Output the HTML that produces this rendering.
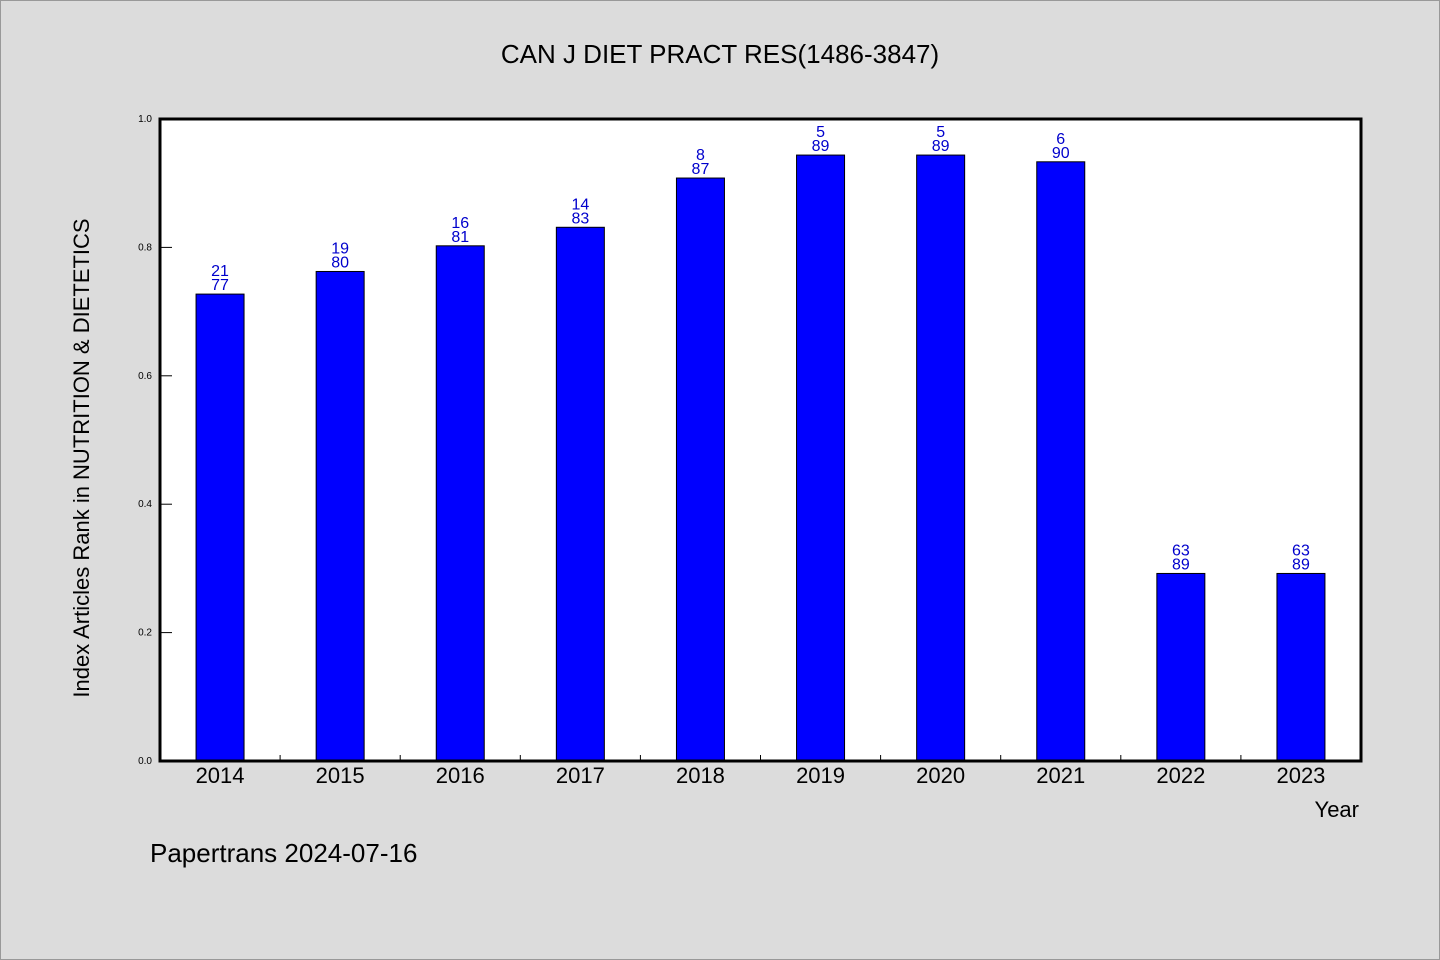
<!DOCTYPE html>
<html><head><meta charset="utf-8"><style>
body{margin:0;background:#dcdcdc;}
svg{display:block;font-family:"WenQuanYi Zen Hei","Liberation Sans",sans-serif;}
</style></head><body>
<svg id="c" width="1440" height="960">
<rect x="0.5" y="0.5" width="1439" height="959" fill="#dcdcdc" stroke="#999"/>
<text x="720" y="63" text-anchor="middle" font-size="26" fill="#000">CAN J DIET PRACT RES(1486-3847)</text>
<rect x="160" y="119" width="1201" height="642" fill="#fff"/>
<g id="bars"></g>
<rect x="160" y="119" width="1201" height="642" fill="none" stroke="#000" stroke-width="3"/>
<text transform="translate(89,458) rotate(-90)" text-anchor="middle" font-size="22">Index Articles Rank in NUTRITION &amp; DIETETICS</text>
<text x="1359" y="817" text-anchor="end" font-size="22">Year</text>
<text x="150" y="862" font-size="26">Papertrans 2024-07-16</text>
</svg>
<script>
const years=["2014","2015","2016","2017","2018","2019","2020","2021","2022","2023"];
const ranks=[21,19,16,14,8,5,5,6,63,63];
const totals=[77,80,81,83,87,89,89,90,89,89];
const yTicks=[0,0.2,0.4,0.6,0.8,1.0];
const NS="http://www.w3.org/2000/svg";
const X0=160,W=1201,Y0=761,H=642;
const bw=W/years.length;
const xs=i=>X0+bw*i;
const ys=v=>Y0-v*H;
const g=document.getElementById('bars');
function mk(t,a){const e=document.createElementNS(NS,t);for(const k in a)e.setAttribute(k,a[k]);g.appendChild(e);return e;}
yTicks.forEach(v=>{
 const l=mk('line',{x1:X0,x2:X0+12,y1:ys(v),y2:ys(v),stroke:'#000','stroke-width':1});
 
 
 const t=mk('text',{x:X0-8,y:ys(v)+3,'text-anchor':'end','font-size':10});
 t.textContent=v.toFixed(1);
 
 
});
years.forEach((y,i)=>{
 const v=1-ranks[i]/totals[i];
 const cx=xs(i)+bw/2;
 const r=mk('rect',{x:cx-24,y:ys(v),width:48,height:Y0-ys(v),fill:'#0000ff',stroke:'#000','stroke-width':1});
 
 
 const t1=mk('text',{x:cx,y:ys(v)-18,'text-anchor':'middle','font-size':16,fill:'#0000cc'});
 t1.textContent=ranks[i];
 
 
 const t2=mk('text',{x:cx,y:ys(v)-4,'text-anchor':'middle','font-size':16,fill:'#0000cc'});
 t2.textContent=totals[i];
 
 
 const xl=mk('text',{x:cx,y:783,'text-anchor':'middle','font-size':22});
 xl.textContent=y;
 
 
 if(i>0){const tk=mk('line',{x1:xs(i),x2:xs(i),y1:Y0,y2:Y0-6,stroke:'#000'});
 
 }
});
</script>
</body></html>
